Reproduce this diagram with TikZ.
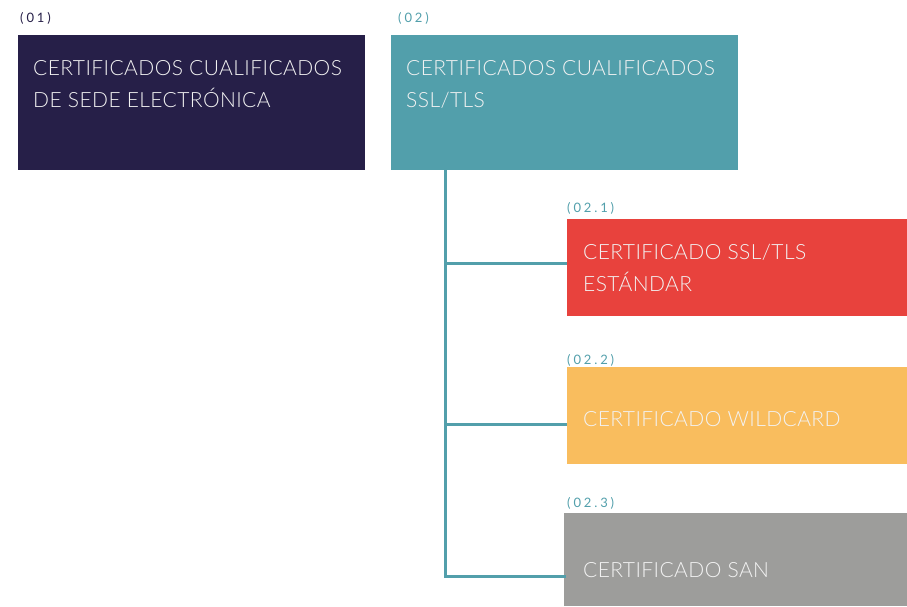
\documentclass[tikz,border=0pt]{standalone}
\usepackage{fontspec}
\setmainfont{Lato Light}[LetterSpace=2]
\newfontfamily\labelfont[LetterSpace=22]{Lato}
\definecolor{navy}{HTML}{261F48}
\definecolor{teal}{HTML}{529FAB}
\definecolor{redbox}{HTML}{E8423D}
\definecolor{orangebox}{HTML}{F9BD5E}
\definecolor{graybox}{HTML}{9D9D9B}
\definecolor{boxtext}{HTML}{F2F2F2}
\tikzset{
  box/.style={anchor=north west, inner sep=0pt, outer sep=0pt, draw=none},
  boxtxt/.style={anchor=base west, inner sep=0pt, text=boxtext, font=\fontsize{21}{32}\selectfont, align=left},
  tag/.style={anchor=base west, inner sep=0pt, font=\labelfont\fontsize{13}{15}\selectfont},
  conn/.style={draw=teal, line width=3pt}
}
\begin{document}
\begin{tikzpicture}[x=1pt,y=-1pt]
\useasboundingbox (0,0) rectangle (907,606);
% boxes
\node[box, fill=navy, minimum width=347pt, minimum height=135pt] (b1) at (18,35) {};
\node[box, fill=teal, minimum width=347pt, minimum height=135pt] (b2) at (391,35) {};
\node[box, fill=redbox, minimum width=340pt, minimum height=97pt] (b21) at (567,219) {};
\node[box, fill=orangebox, minimum width=340pt, minimum height=97pt] (b22) at (567,367) {};
\node[box, fill=graybox, minimum width=343pt, minimum height=93pt] (b23) at (564,513) {};
% tags
\node[tag, text=navy] (t1) at (20,22) {(01)};
\node[tag, text=teal] (t2) at (398,22) {(02)};
\node[tag, text=teal] (t21) at (567,212) {(02.1)};
\node[tag, text=teal] (t22) at (567,364) {(02.2)};
\node[tag, text=teal] (t23) at (567,507) {(02.3)};
% texts (base anchor = last line baseline)
\node[boxtxt] (x1) at (33,107) {CERTIFICADOS CUALIFICADOS\\DE SEDE ELECTRÓNICA};
\node[boxtxt] (x2) at (406,107) {CERTIFICADOS CUALIFICADOS\\SSL/TLS};
\node[boxtxt] (x21) at (583,291) {CERTIFICADO SSL/TLS\\ESTÁNDAR};
\node[boxtxt] (x22) at (583,426) {CERTIFICADO WILDCARD};
\node[boxtxt] (x23) at (583,577) {CERTIFICADO SAN};
% connectors
\coordinate (top) at (445,170);
\coordinate (j1) at (445,263);
\coordinate (j2) at (445,424);
\coordinate (j3) at (445,576);
\draw[conn] (top) -- (j3);
\draw[conn] (j1) -- (j1 -| b21.west);
\draw[conn] (j2) -- (j2 -| b22.west);
\draw[conn, line cap=rect] (j3) -- (j3 -| b23.west);
\end{tikzpicture}
\end{document}
